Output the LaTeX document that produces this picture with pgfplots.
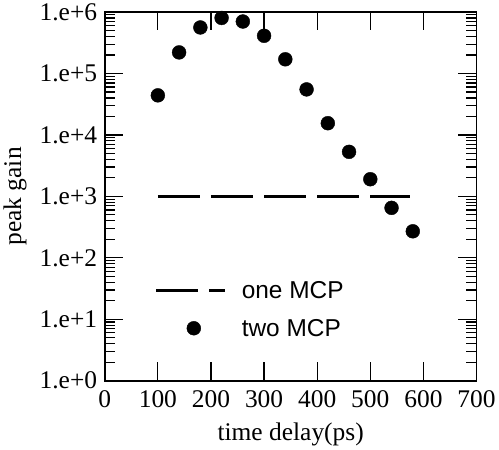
\documentclass[border=0pt]{standalone}
\usepackage{fontspec}
\setmainfont{Liberation Serif}
\setsansfont{Liberation Sans}
\usepackage{pgfplots}
\pgfplotsset{compat=1.18}
\begin{document}
\begin{tikzpicture}
\begin{axis}[
  scale only axis,
  width=364bp, height=361bp,
  xmin=0, xmax=700, ymin=1, ymax=1e6,
  ymode=log,
  axis line style={line width=1.6bp},
  every tick/.style={black, line width=1.2bp},
  tick align=inside,
  major tick length=18bp,
  minor tick length=10bp,
  xtick={0,100,...,700},
  xticklabels={0,100,200,300,400,500,600,700},
  ytick={1,10,100,1000,10000,100000,1000000},
  minor ytick={2,3,4,5,6,7,8,9,20,30,40,50,60,70,80,90,200,300,400,500,600,700,800,900,2000,3000,4000,5000,6000,7000,8000,9000,20000,30000,40000,50000,60000,70000,80000,90000,200000,300000,400000,500000,600000,700000,800000,900000},
  yticklabels={1.e+0,1.e+1,1.e+2,1.e+3,1.e+4,1.e+5,1.e+6},
  tick label style={font=\fontsize{25}{29}\selectfont},
  xticklabel style={yshift=-6bp},
  yticklabel style={xshift=-4bp},
  xlabel={time delay(ps)},
  ylabel={peak gain},
  label style={font=\fontsize{25}{29}\selectfont},
  xlabel style={yshift=-8bp},
  ylabel style={yshift=6bp},
  legend style={draw=none, fill=none, font=\sffamily\fontsize{24}{28}\selectfont,
    at={(rel axis cs:0.125,0.282)}, anchor=north west, row sep=15bp,
    legend cell align=left},
  clip=false,
]
\addplot[black, line width=3bp, dash pattern=on 41bp off 11bp,
  legend image code/.code={\draw[black, line width=3bp, dash pattern=on 41bp off 11bp] (0bp,0bp) -- (68bp,0bp); \path[draw=none] (0bp,0bp) -- (82bp,0bp);}]
  coordinates {(100,1000) (575,1000)};
\addlegendentry{one MCP}
\addplot[only marks, mark=*, mark size=6.8bp, black,
  legend image code/.code={\fill[black] (37bp,0bp) circle (6.8bp); \path[draw=none] (0bp,0bp) -- (82bp,0bp);}]
  coordinates {
  (100,44000) (140,220000) (180,560000) (220,800000) (260,700000)
  (300,410000) (340,170000) (380,55000) (420,15500) (460,5300)
  (500,1900) (540,650) (580,270)
  };
\addlegendentry{two MCP}
\end{axis}
\end{tikzpicture}
\end{document}
